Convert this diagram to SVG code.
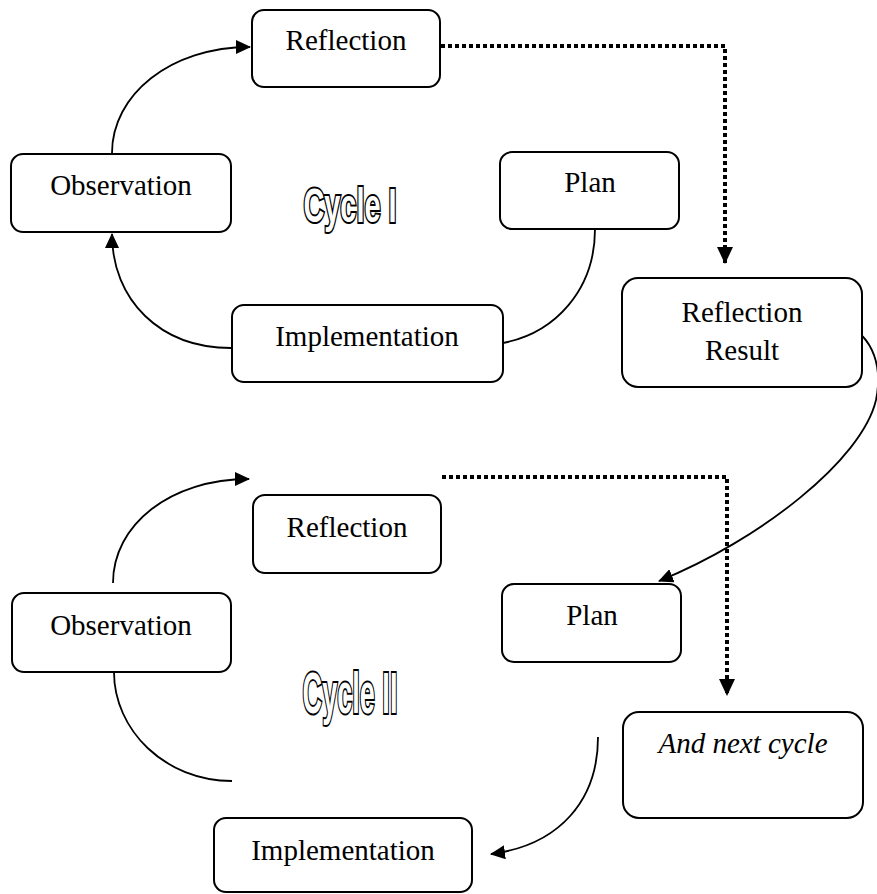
<svg xmlns="http://www.w3.org/2000/svg" width="877" height="894" viewBox="0 0 877 894">
<defs>
<marker id="ah" markerWidth="16" markerHeight="14" refX="14" refY="7" orient="auto" markerUnits="userSpaceOnUse"><path d="M0,0 L15,7 L0,14 Z" fill="#000"/></marker>
<marker id="ahd" markerWidth="18" markerHeight="18" refX="16" refY="9" orient="auto" markerUnits="userSpaceOnUse"><path d="M0,1 L17,9 L0,17 Z" fill="#000"/></marker>
<style>
.box{fill:#fff;stroke:#000;stroke-width:2}
.lbl{font-family:'Liberation Serif','DejaVu Serif',serif;font-size:29px;fill:#000;text-anchor:middle}
.it{font-style:italic}
.con{fill:none;stroke:#000;stroke-width:1.8}
.dot{fill:none;stroke:#000;stroke-width:4;stroke-dasharray:4 3}
.cyc{font-family:'Liberation Sans',Arial,sans-serif;font-weight:bold;fill:#fff;stroke:#000;stroke-width:4;text-anchor:middle;paint-order:stroke}
</style>
</defs>
<rect width="877" height="894" fill="#fff"/>
<g id="connectors">
<path class="con" d="M112,153 C112,95 170,47 250,47" marker-end="url(#ah)"/>
<path class="con" d="M231,348 C160,348 112,300 112,234" marker-end="url(#ah)"/>
<path class="con" d="M595,229 C595,290 555,333 503,343"/>
<path class="dot" d="M441,46 H725 V263" marker-end="url(#ahd)"/>
<path class="con" d="M842,325 C868,331 884,360 876,400 C862,460 760,540 659,581" marker-end="url(#ah)"/>
<path class="con" d="M113,583 C113,525 170,479 249,479" marker-end="url(#ah)"/>
<path class="con" d="M114,672 C114,730 165,781 232,781"/>
<path class="dot" d="M442,477 H727 V695" marker-end="url(#ahd)"/>
<path class="con" d="M598,737 C598,800 560,845 491,854" marker-end="url(#ah)"/>
</g>
<g id="reflection1"><rect class="box" x="252" y="10" width="188" height="77" rx="12"/><text class="lbl" x="346" y="50">Reflection</text></g>
<g id="observation1"><rect class="box" x="11" y="154" width="220" height="78" rx="12"/><text class="lbl" x="121" y="195">Observation</text></g>
<g id="plan1"><rect class="box" x="500" y="152" width="179" height="77" rx="12"/><text class="lbl" x="590" y="192">Plan</text></g>
<g id="implementation1"><rect class="box" x="232" y="305" width="271" height="77" rx="12"/><text class="lbl" x="367" y="346">Implementation</text></g>
<g id="reflectionResult"><rect class="box" x="622" y="278" width="240" height="109" rx="16"/><text class="lbl" x="742" y="322">Reflection</text><text class="lbl" x="742" y="360">Result</text></g>
<g id="cycle1"><text class="cyc" font-size="49" transform="translate(350,222) scale(0.59,1)">Cycle I</text></g>
<g id="reflection2"><rect class="box" x="253" y="495" width="188" height="78" rx="12"/><text class="lbl" x="347" y="537">Reflection</text></g>
<g id="observation2"><rect class="box" x="12" y="593" width="219" height="79" rx="12"/><text class="lbl" x="121" y="635">Observation</text></g>
<g id="plan2"><rect class="box" x="502" y="584" width="179" height="78" rx="12"/><text class="lbl" x="592" y="625">Plan</text></g>
<g id="cycle2"><text class="cyc" font-size="57" transform="translate(350,713) scale(0.475,1)">Cycle II</text></g>
<g id="nextCycle"><rect class="box" x="623" y="712" width="240" height="106" rx="16"/><text class="lbl it" x="743" y="753">And next cycle</text></g>
<g id="implementation2"><rect class="box" x="214" y="818" width="258" height="74" rx="12"/><text class="lbl" x="343" y="860">Implementation</text></g>
</svg>
